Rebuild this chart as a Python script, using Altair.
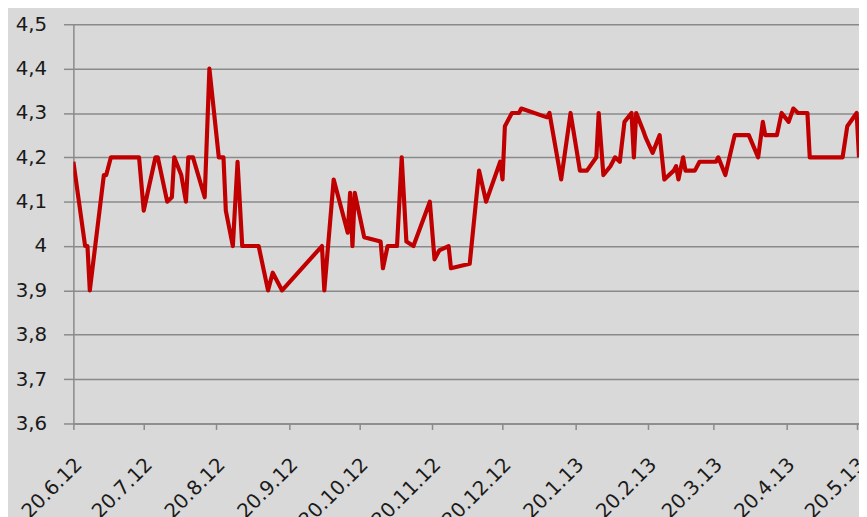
import altair as alt
import pandas as pd

# ---- data ----
dates = [
    "2012-06-20", "2012-06-25", "2012-06-26", "2012-06-27", "2012-07-03", "2012-07-04",
    "2012-07-06", "2012-07-18", "2012-07-20", "2012-07-25", "2012-07-26", "2012-07-30",
    "2012-08-01", "2012-08-02", "2012-08-05", "2012-08-07", "2012-08-08", "2012-08-10",
    "2012-08-15", "2012-08-17", "2012-08-21", "2012-08-23", "2012-08-24", "2012-08-27",
    "2012-08-29", "2012-08-31", "2012-09-07", "2012-09-11", "2012-09-13", "2012-09-17",
    "2012-10-04", "2012-10-05", "2012-10-09", "2012-10-15", "2012-10-16", "2012-10-17",
    "2012-10-18", "2012-10-22", "2012-10-29", "2012-10-30", "2012-11-01", "2012-11-05",
    "2012-11-07", "2012-11-09", "2012-11-12", "2012-11-19", "2012-11-21", "2012-11-23",
    "2012-11-27", "2012-11-28", "2012-12-06", "2012-12-10", "2012-12-13", "2012-12-19",
    "2012-12-20", "2012-12-21", "2012-12-24", "2012-12-27", "2012-12-28", "2013-01-08",
    "2013-01-09", "2013-01-14", "2013-01-18", "2013-01-22", "2013-01-25", "2013-01-29",
    "2013-01-30", "2013-02-01", "2013-02-04", "2013-02-06", "2013-02-08", "2013-02-10",
    "2013-02-13", "2013-02-14", "2013-02-15", "2013-02-18", "2013-02-19", "2013-02-22",
    "2013-02-25", "2013-02-27", "2013-03-03", "2013-03-04", "2013-03-05", "2013-03-07",
    "2013-03-08", "2013-03-12", "2013-03-14", "2013-03-21", "2013-03-22", "2013-03-25",
    "2013-03-29", "2013-04-04", "2013-04-08", "2013-04-10", "2013-04-11", "2013-04-16",
    "2013-04-18", "2013-04-21", "2013-04-23", "2013-04-25", "2013-04-29", "2013-04-30",
    "2013-05-14", "2013-05-16", "2013-05-20", "2013-05-21",
]
rates = [
    4.19, 4.00, 4.00, 3.90, 4.16, 4.16,
    4.20, 4.20, 4.08, 4.20, 4.20, 4.10,
    4.11, 4.20, 4.16, 4.10, 4.20, 4.20,
    4.11, 4.40, 4.20, 4.20, 4.08, 4.00,
    4.19, 4.00, 4.00, 3.90, 3.94, 3.90,
    4.00, 3.90, 4.15, 4.03, 4.12, 4.00,
    4.12, 4.02, 4.01, 3.95, 4.00, 4.00,
    4.20, 4.01, 4.00, 4.10, 3.97, 3.99,
    4.00, 3.95, 3.96, 4.17, 4.10, 4.19,
    4.15, 4.27, 4.30, 4.30, 4.31, 4.29,
    4.30, 4.15, 4.30, 4.17, 4.17, 4.20,
    4.30, 4.16, 4.18, 4.20, 4.19, 4.28,
    4.30, 4.20, 4.30, 4.26, 4.245, 4.21,
    4.25, 4.15, 4.17, 4.18, 4.15, 4.20,
    4.17, 4.17, 4.19, 4.19, 4.20, 4.16,
    4.25, 4.25, 4.20, 4.28, 4.25, 4.25,
    4.30, 4.28, 4.31, 4.30, 4.30, 4.20,
    4.20, 4.27, 4.30, 4.20,
]
tick_dates = [
    "2012-06-20", "2012-07-20", "2012-08-20", "2012-09-20", "2012-10-20", "2012-11-20",
    "2012-12-20", "2013-01-20", "2013-02-20", "2013-03-20", "2013-04-20", "2013-05-20",
]
y_ticks = [3.6, 3.7, 3.8, 3.9, 4.0, 4.1, 4.2, 4.3, 4.4, 4.5]
x_range = ["2012-06-20", "2013-05-21"]

df = pd.DataFrame({"date": dates, "rate": rates})


def ms(s):
    return int(pd.Timestamp(s, tz="UTC").timestamp() * 1000)


GRID = "#8a8a8a"
FONT = "DejaVu Sans"

chart = (
    alt.Chart(df)
    .mark_line(color="#c00000", strokeWidth=4.2, strokeJoin="round", clip=True)
    .encode(
        x=alt.X(
            "date:T",
            scale=alt.Scale(type="utc", domain=[ms(d) for d in x_range]),
            axis=alt.Axis(
                title=None,
                values=[ms(d) for d in tick_dates],
                format="%-d.%-m.%y",
                labelAngle=-45,
                labelAlign="right",
                labelBaseline="top",
                labelPadding=25,
                labelOffset=-2,
                labelFont=FONT,
                labelFontSize=20,
                labelColor="#1a1a1a",
                labelOverlap=False,
                labelFlush=False,
                tickSize=6,
                tickColor=GRID,
                tickWidth=1.5,
                domainColor=GRID,
                domainWidth=1.5,
                grid=False,
            ),
        ),
        y=alt.Y(
            "rate:Q",
            scale=alt.Scale(domain=[3.6, 4.5], nice=False, zero=False),
            axis=alt.Axis(
                title=None,
                values=y_ticks,
                labelExpr="replace(format(datum.value, '.1~f'), '.', ',')",
                labelFont=FONT,
                labelFontSize=20,
                labelColor="#1a1a1a",
                labelPadding=17,
                tickSize=10,
                tickColor=GRID,
                tickWidth=1.5,
                domainColor=GRID,
                domainWidth=1.5,
                grid=True,
                gridColor=GRID,
                gridWidth=1.5,
            ),
        ),
    )
    .properties(
        width=793,
        height=403,
        autosize=alt.AutoSizeParams(type="none"),
        padding={"left": 66, "top": 14, "right": 0, "bottom": 92},
    )
    .configure(background="#d9d9d9")
    .configure_view(stroke=None)
)

chart.save("out.html", embed_options={"renderer": "svg", "actions": False})
